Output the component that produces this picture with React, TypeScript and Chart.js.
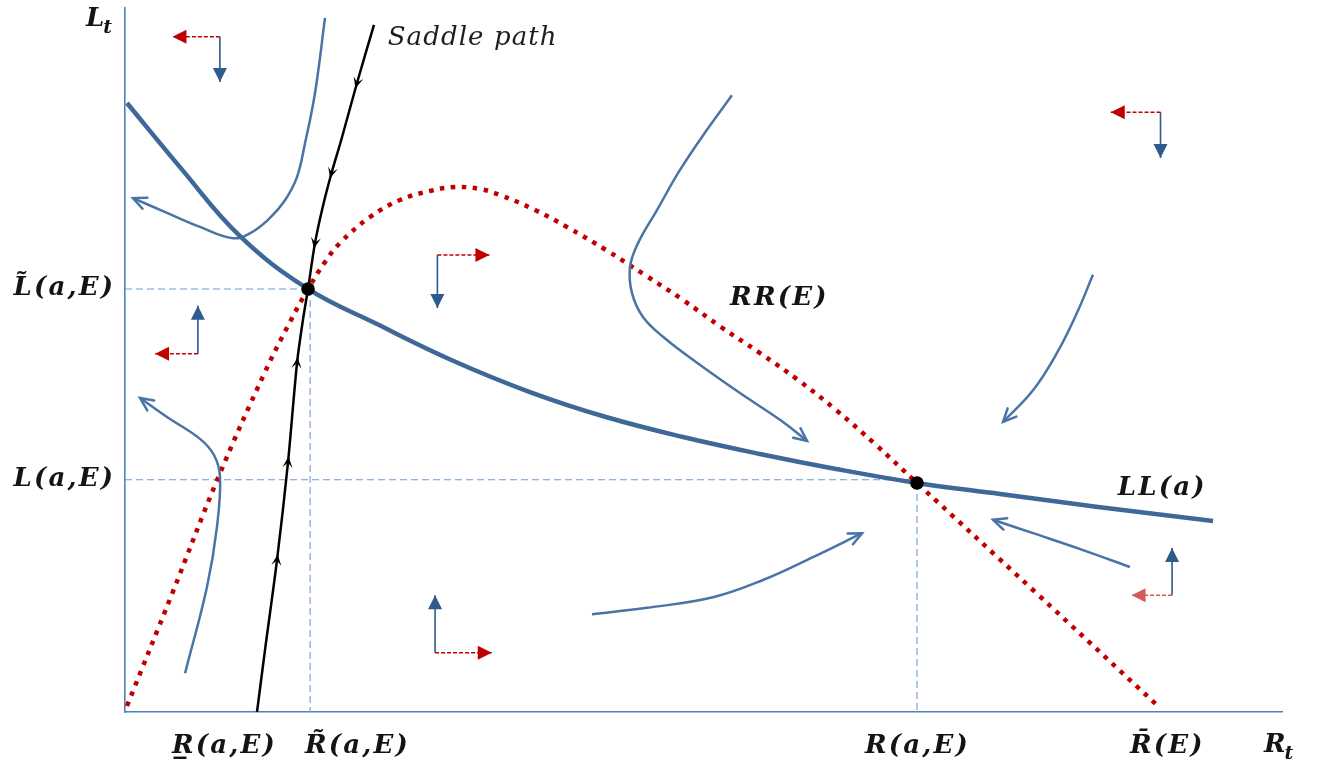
import React, { useEffect, useRef } from 'react';
import { Chart, registerables } from 'chart.js';

Chart.register(...registerables);

type Pt = [number, number];

// ---------- data (R on x axis, L on y axis; arbitrary 0-100 units) ----------
const llCurve: Pt[] = [
  [0.17, 86.5], [4.75, 77.4], [9.94, 67.6], [15.82, 60.09], [21.78, 55.1], [28.35, 49.9],
  [35.0, 45.45], [41.57, 41.9], [48.23, 39.06], [54.88, 36.65], [61.45, 34.52], [68.45, 32.53],
  [75.63, 30.97], [84.1, 29.12], [94.04, 27.13],
];

const rrCurve: Pt[] = [
  [0.17, 0.85], [4.06, 16.76], [8.04, 33.24], [12.1, 48.3], [14.26, 55.4], [15.82, 60.09],
  [17.29, 63.92], [18.58, 66.62], [21.18, 70.31], [23.77, 72.73], [26.36, 74.01], [28.52, 74.57],
  [30.68, 74.29], [32.41, 73.44], [35.44, 71.31], [38.2, 68.89], [41.57, 65.63], [44.94, 62.07],
  [48.23, 58.52], [51.51, 54.69], [54.88, 50.99], [58.17, 47.16], [61.45, 42.9], [64.82, 38.07],
  [68.45, 32.53], [78.48, 17.33], [89.46, 0.57],
];

const saddleLower: Pt[] = [
  [11.41, 0], [12.1, 8.8], [13.14, 21.6], [14.09, 35.5], [14.87, 49.6], [15.38, 55.7], [15.82, 60.09],
];
const saddleUpper: Pt[] = [
  [21.52, 97.6], [20.05, 89.35], [18.69, 81.25], [17.85, 76.56], [17.07, 71.6], [16.42, 66.6], [15.82, 60.09],
];
const saddleLowerChevrons = [2, 3, 4];
const saddleUpperChevrons = [1, 3, 5];

const flowTopLeft: Pt[] = [
  [17.29, 98.6], [16.42, 87.9], [15.56, 80.8], [14.87, 76.0], [13.83, 72.7], [12.36, 69.9],
  [10.8, 68.0], [9.33, 67.3], [6.48, 68.9], [3.63, 70.9], [0.69, 73.0],
];
const flowBottomLeft: Pt[] = [
  [5.19, 5.5], [7.09, 17.8], [7.95, 26.3], [8.21, 33.4], [7.69, 36.5], [6.48, 38.8], [3.63, 41.9], [1.3, 44.6],
];
const flowMiddle: Pt[] = [
  [52.46, 87.6], [50.3, 82.7], [47.97, 77.0], [45.98, 71.3], [44.34, 66.6], [43.65, 63.2],
  [43.82, 59.5], [44.77, 56.1], [46.5, 53.3], [49.44, 49.6], [53.15, 45.3], [56.61, 41.5], [58.95, 38.5],
];
const flowRightUpper: Pt[] = [
  [83.66, 62.1], [82.28, 56.7], [80.55, 51.0], [78.48, 45.7], [75.89, 41.2],
];
const flowBottomMiddle: Pt[] = [
  [40.36, 13.9], [45.12, 14.8], [50.82, 16.3], [55.14, 18.75], [59.46, 22.0], [63.7, 25.4],
];
const flowBottomRight: Pt[] = [
  [86.86, 20.6], [82.8, 23.0], [78.48, 25.4], [75.02, 27.3],
];

const dirCorners: Pt[] = [[8.2, 95.9], [27.0, 64.9], [89.5, 85.2], [6.3, 50.9], [26.8, 8.4], [90.5, 16.6]];
const dirRedTips: Pt[] = [[4.1, 95.9], [31.5, 64.9], [85.2, 85.2], [2.6, 50.9], [31.7, 8.4], [87.0, 16.6]];
const dirBlueTips: Pt[] = [[8.2, 89.5], [27.0, 57.4], [89.5, 78.7], [6.3, 57.7], [26.8, 16.6], [90.5, 23.3]];
const dirRedColors = ['#c00000', '#c00000', '#c00000', '#c00000', '#c00000', '#d65a5a'];

const equilibria: Pt[] = [[15.82, 60.09], [68.45, 32.53]];

const guideLTilde: Pt[] = [[0, 60.09], [15.82, 60.09]];
const guideRTilde: Pt[] = [[16.0, 60.09], [16.0, 0]];
const guideL: Pt[] = [[0, 33.0], [68.45, 33.0]];
const guideR: Pt[] = [[68.45, 32.53], [68.45, 0]];

const xLabelPos = [8.5, 20.0, 68.4, 90.0];
const xLabelText = ['R\u0332(a,E)', 'R\u0303(a,E)', 'R(a,E)', 'R\u0304(E)'];
const yLabelPos = [60.09, 33.0];
const yLabelText = ['L\u0303(a,E)', 'L(a,E)'];
const curveLabels = ['RR(E)', 'LL(a)'];
const curveLabelPos: Pt[] = [[52.3, 57.8], [85.8, 30.8]];
const saddleLabel = 'Saddle path';
const saddleLabelPos: Pt[] = [[22.7, 94.7]];

// ---------- styles ----------
const AXIS = '#4f81bd';
const LL_BLUE = '#3e6898';
const FLOW_BLUE = '#4a74a5';
const DIR_BLUE = '#2e5a8e';
const RED = '#c00000';
const GUIDE = '#6c9bd8';
const TEXT = '#141414';
const FONT = '"DejaVu Serif", serif';
const MATH_FONT = `italic bold 26px ${FONT}`;
const MATH_SPACING = 2.2;

const toXY = (pts: Pt[]) => pts.map(([x, y]) => ({ x, y }));

function line(pts: Pt[], color: string, width: number, extra: any = {}) {
  return {
    data: toXY(pts),
    showLine: true,
    borderColor: color,
    backgroundColor: color,
    borderWidth: width,
    pointRadius: 0,
    pointHoverRadius: 0,
    pointHitRadius: 0,
    clip: false,
    ...extra,
  };
}

function drawHead(ctx: CanvasRenderingContext2D, tx: number, ty: number, ux: number, uy: number, s: any) {
  const nx = -uy, ny = ux;
  const bx = tx - ux * s.len, by = ty - uy * s.len;
  ctx.save();
  ctx.setLineDash([]);
  ctx.fillStyle = s.color;
  ctx.strokeStyle = s.color;
  if (s.kind === 'open') {
    ctx.lineWidth = s.lw || 2.5;
    ctx.lineCap = 'round';
    ctx.lineJoin = 'miter';
    ctx.beginPath();
    ctx.moveTo(bx + nx * s.half, by + ny * s.half);
    ctx.lineTo(tx, ty);
    ctx.lineTo(bx - nx * s.half, by - ny * s.half);
    ctx.stroke();
  } else if (s.kind === 'stealth') {
    ctx.beginPath();
    ctx.moveTo(tx, ty);
    ctx.lineTo(bx + nx * s.half, by + ny * s.half);
    ctx.lineTo(tx - ux * s.len * 0.55, ty - uy * s.len * 0.55);
    ctx.lineTo(bx - nx * s.half, by - ny * s.half);
    ctx.closePath();
    ctx.fill();
  } else {
    ctx.beginPath();
    ctx.moveTo(tx, ty);
    ctx.lineTo(bx + nx * s.half, by + ny * s.half);
    ctx.lineTo(bx - nx * s.half, by - ny * s.half);
    ctx.closePath();
    ctx.fill();
  }
  ctx.restore();
}

const arrowPlugin = {
  id: 'phaseArrows',
  afterDatasetsDraw(chart: any) {
    const ctx = chart.ctx as CanvasRenderingContext2D;
    chart.data.datasets.forEach((ds: any, i: number) => {
      const pts = chart.getDatasetMeta(i).data as any[];
      if (ds.arrowHead && pts.length > 1) {
        const p = pts[pts.length - 1];
        const q = pts[pts.length - 2];
        let fx = q.x, fy = q.y;
        if (p.cp1x !== undefined && (Math.abs(p.cp1x - p.x) + Math.abs(p.cp1y - p.y)) > 0.5) {
          fx = p.cp1x; fy = p.cp1y;
        }
        const dx = p.x - fx, dy = p.y - fy;
        const d = Math.hypot(dx, dy) || 1;
        drawHead(ctx, p.x, p.y, dx / d, dy / d, ds.arrowHead);
      }
      if (ds.chevrons) {
        ds.chevrons.forEach((idx: number) => {
          const p = pts[idx];
          const prev = pts[idx - 1];
          const next = pts[idx + 1] || p;
          let dx = next.x - prev.x, dy = next.y - prev.y;
          const d = Math.hypot(dx, dy) || 1;
          dx /= d; dy /= d;
          const s = ds.chevronStyle;
          drawHead(ctx, p.x + dx * s.len / 2, p.y + dy * s.len / 2, dx, dy, s);
        });
      }
    });
  },
};

// split text into clusters (base char + following combining marks)
function clusters(text: string): string[] {
  const out: string[] = [];
  for (const ch of text) {
    const c = ch.codePointAt(0) || 0;
    if (c >= 0x300 && c <= 0x36f && out.length) out[out.length - 1] += ch;
    else out.push(ch);
  }
  return out;
}

function drawSpaced(ctx: CanvasRenderingContext2D, text: string, x: number, y: number, align: string, spacing: number) {
  const parts = clusters(text);
  const widths = parts.map((p) => ctx.measureText(p).width);
  const total = widths.reduce((a, b) => a + b, 0) + spacing * (parts.length - 1);
  let cx = align === 'center' ? x - total / 2 : align === 'right' ? x - total : x;
  const prevAlign = ctx.textAlign;
  ctx.textAlign = 'left';
  parts.forEach((p, i) => {
    ctx.fillText(p, cx, y);
    cx += widths[i] + spacing;
  });
  ctx.textAlign = prevAlign;
}

function drawSub(ctx: CanvasRenderingContext2D, main: string, sub: string, x: number, y: number) {
  ctx.font = MATH_FONT;
  ctx.textAlign = 'left';
  ctx.fillText(main, x, y);
  const w = ctx.measureText(main).width;
  ctx.font = `italic bold 19px ${FONT}`;
  ctx.fillText(sub, x + w - 1, y + 7);
}

const labelPlugin = {
  id: 'mathLabels',
  afterDraw(chart: any) {
    const ctx = chart.ctx as CanvasRenderingContext2D;
    const { chartArea, scales } = chart;
    const xs = scales.x, ys = scales.y;
    ctx.save();
    ctx.fillStyle = TEXT;
    ctx.textBaseline = 'alphabetic';
    ctx.font = MATH_FONT;
    xLabelText.forEach((t, i) => drawSpaced(ctx, t, xs.getPixelForValue(xLabelPos[i]), chartArea.bottom + 41, 'center', MATH_SPACING));
    yLabelText.forEach((t, i) => drawSpaced(ctx, t, chartArea.left - 12, ys.getPixelForValue(yLabelPos[i]) + 6, 'right', MATH_SPACING));
    curveLabels.forEach((t, i) => drawSpaced(ctx, t, xs.getPixelForValue(curveLabelPos[i][0]), ys.getPixelForValue(curveLabelPos[i][1]), 'left', MATH_SPACING));
    drawSub(ctx, 'L', 't', chartArea.left - 39, chartArea.top + 18);
    drawSub(ctx, 'R', 't', chartArea.right - 18, chartArea.bottom + 40);
    ctx.font = `italic 26px ${FONT}`;
    ctx.fillStyle = '#1e1e1e';
    drawSpaced(ctx, saddleLabel, xs.getPixelForValue(saddleLabelPos[0][0]), ys.getPixelForValue(saddleLabelPos[0][1]), 'left', 1.1);
    ctx.restore();
  },
};

export default function App() {
  const ref = useRef<HTMLCanvasElement>(null);
  useEffect(() => {
    const datasets: any[] = [];
    datasets.push({
      data: toXY(equilibria), showLine: false, pointRadius: 6.8, pointHoverRadius: 6.8,
      pointBackgroundColor: '#000', pointBorderColor: '#000', borderWidth: 0, clip: false, order: 0,
    });
    const chev = { kind: 'stealth', len: 11, half: 5, color: '#000' };
    datasets.push(line(saddleLower, '#000', 2.5, {
      tension: 0.3, order: 1, chevrons: saddleLowerChevrons, chevronStyle: chev,
    }));
    datasets.push(line(saddleUpper, '#000', 2.5, {
      tension: 0.3, order: 1, chevrons: saddleUpperChevrons, chevronStyle: chev,
    }));
    datasets.push(line(llCurve, LL_BLUE, 4.5, { tension: 0.4, order: 3 }));
    const head = { kind: 'open', len: 13, half: 6, color: FLOW_BLUE, lw: 2.5 };
    [flowTopLeft, flowBottomLeft, flowMiddle, flowRightUpper, flowBottomMiddle, flowBottomRight].forEach((f) =>
      datasets.push(line(f, FLOW_BLUE, 2.5, { tension: 0.4, order: 4, arrowHead: head })));
    dirCorners.forEach((c, i) => {
      datasets.push(line([c, dirRedTips[i]], dirRedColors[i], 1.5, {
        borderDash: [4, 2], order: 2, arrowHead: { kind: 'filled', len: 14, half: 7, color: dirRedColors[i] },
      }));
      datasets.push(line([c, dirBlueTips[i]], DIR_BLUE, 1.6, {
        order: 2, arrowHead: { kind: 'filled', len: 14, half: 7, color: DIR_BLUE },
      }));
    });
    datasets.push(line(rrCurve, RED, 4.5, {
      tension: 0.4, borderDash: [4.5, 6.5], borderCapStyle: 'butt', order: 6,
    }));
    [guideLTilde, guideRTilde, guideL, guideR].forEach((g) => datasets.push(line(g, GUIDE, 1.1, {
      borderDash: [7, 4], order: 8,
    })));

    const axisOpts = () => ({
      type: 'linear', min: 0, max: 100,
      grid: { display: false, drawTicks: false },
      ticks: { display: false },
      border: { display: true, color: AXIS, width: 1.6 },
    });

    const chart = new Chart(ref.current as HTMLCanvasElement, {
      type: 'scatter',
      data: { datasets },
      options: {
        animation: false,
        responsive: false,
        devicePixelRatio: 1,
        events: [],
        layout: { padding: { left: 125, top: 8, right: 41, bottom: 58 } },
        plugins: { legend: { display: false }, tooltip: { enabled: false } },
        scales: { x: axisOpts(), y: axisOpts() },
      } as any,
      plugins: [arrowPlugin, labelPlugin],
    });
    return () => chart.destroy();
  }, []);

  return (
    <div style={{ position: 'absolute', left: 0, top: 0, width: 1323, height: 770, background: '#fff' }}>
      <canvas ref={ref} width={1323} height={770} style={{ display: 'block' }} />
    </div>
  );
}
